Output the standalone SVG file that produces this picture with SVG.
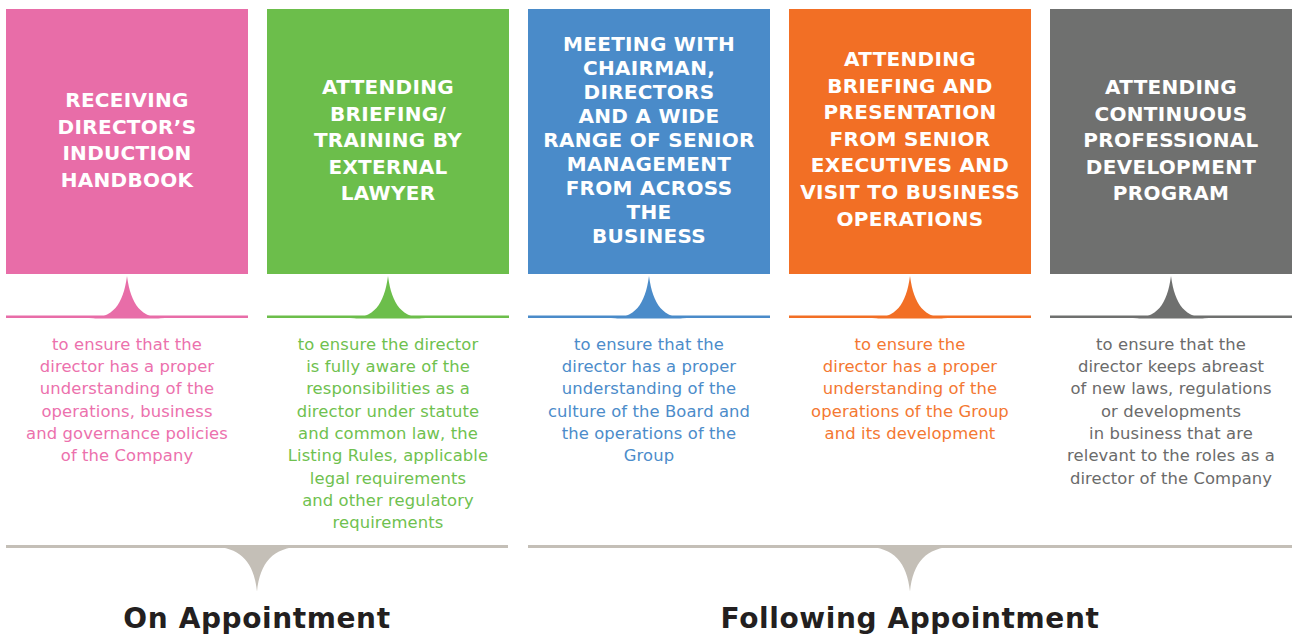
<svg xmlns="http://www.w3.org/2000/svg" xmlns:xlink="http://www.w3.org/1999/xlink" width="1292" height="634" viewBox="0 0 1292 634">
<style>
.title{font-family:"DejaVu Sans","Liberation Sans",sans-serif;font-weight:bold;font-size:20px;fill:#ffffff;text-anchor:middle;letter-spacing:0.3px}
.desc{font-family:"DejaVu Sans","Liberation Sans",sans-serif;font-weight:normal;font-size:16.4px;text-anchor:middle;letter-spacing:0.1px}
.phase{font-family:"DejaVu Sans","Liberation Sans",sans-serif;font-weight:bold;font-size:28px;fill:#231f20;text-anchor:middle;letter-spacing:0.6px}
.pink{fill:#e86da8}.green{fill:#6cbe4b}.blue{fill:#4a8bc9}.orange{fill:#f26f25}.gray{fill:#6f706f}
.tpink{fill:#ec71ad}.tgreen{fill:#6fc14f}.tblue{fill:#4c8cca}.torange{fill:#f47832}.tgray{fill:#6b6b6b}
.bar{fill:#c4bfb7}
</style>
<defs>
<path id="ptr" d="M-38,1.5 C-14,1 -4,-12 0,-41 C4,-12 14,1 38,1.5 Z"/>
<path id="ptrDown" d="M-44,0 C-16,1 -3,16 0,45 C3,16 16,1 44,0 Z"/>
</defs>

<g id="node-handbook">
<rect class="pink" x="6" y="9" width="242" height="265"/>
<text class="title"><tspan x="127" y="107">RECEIVING</tspan><tspan x="127" y="133.6">DIRECTOR’S</tspan><tspan x="127" y="160.2">INDUCTION</tspan><tspan x="127" y="186.8">HANDBOOK</tspan></text>
<rect class="pink" x="6" y="315.5" width="242" height="2.5"/>
<use xlink:href="#ptr" class="pink" x="127" y="317"/>
<text class="desc tpink"><tspan x="127" y="349.5">to ensure that the</tspan><tspan x="127" y="371.85">director has a proper</tspan><tspan x="127" y="394.2">understanding of the</tspan><tspan x="127" y="416.55">operations, business</tspan><tspan x="127" y="438.9">and governance policies</tspan><tspan x="127" y="461.25">of the Company</tspan></text>
</g>

<g id="node-external-lawyer">
<rect class="green" x="267" y="9" width="242" height="265"/>
<text class="title"><tspan x="388" y="94">ATTENDING</tspan><tspan x="388" y="120.6">BRIEFING/</tspan><tspan x="388" y="147.2">TRAINING BY</tspan><tspan x="388" y="173.8">EXTERNAL</tspan><tspan x="388" y="200.4">LAWYER</tspan></text>
<rect class="green" x="267" y="315.5" width="242" height="2.5"/>
<use xlink:href="#ptr" class="green" x="388" y="317"/>
<text class="desc tgreen"><tspan x="388" y="349.5">to ensure the director</tspan><tspan x="388" y="371.85">is fully aware of the</tspan><tspan x="388" y="394.2">responsibilities as a</tspan><tspan x="388" y="416.55">director under statute</tspan><tspan x="388" y="438.9">and common law, the</tspan><tspan x="388" y="461.25">Listing Rules, applicable</tspan><tspan x="388" y="483.6">legal requirements</tspan><tspan x="388" y="505.95">and other regulatory</tspan><tspan x="388" y="528.3">requirements</tspan></text>
</g>

<g id="node-meeting">
<rect class="blue" x="528" y="9" width="242" height="265"/>
<text class="title"><tspan x="649" y="51">MEETING WITH</tspan><tspan x="649" y="75">CHAIRMAN,</tspan><tspan x="649" y="99">DIRECTORS</tspan><tspan x="649" y="123">AND A WIDE</tspan><tspan x="649" y="147">RANGE OF SENIOR</tspan><tspan x="649" y="171">MANAGEMENT</tspan><tspan x="649" y="195">FROM ACROSS</tspan><tspan x="649" y="219">THE</tspan><tspan x="649" y="243">BUSINESS</tspan></text>
<rect class="blue" x="528" y="315.5" width="242" height="2.5"/>
<use xlink:href="#ptr" class="blue" x="649" y="317"/>
<text class="desc tblue"><tspan x="649" y="349.5">to ensure that the</tspan><tspan x="649" y="371.85">director has a proper</tspan><tspan x="649" y="394.2">understanding of the</tspan><tspan x="649" y="416.55">culture of the Board and</tspan><tspan x="649" y="438.9">the operations of the</tspan><tspan x="649" y="461.25">Group</tspan></text>
</g>

<g id="node-presentation">
<rect class="orange" x="789" y="9" width="242" height="265"/>
<text class="title"><tspan x="910" y="66">ATTENDING</tspan><tspan x="910" y="92.6">BRIEFING AND</tspan><tspan x="910" y="119.2">PRESENTATION</tspan><tspan x="910" y="145.8">FROM SENIOR</tspan><tspan x="910" y="172.4">EXECUTIVES AND</tspan><tspan x="910" y="199">VISIT TO BUSINESS</tspan><tspan x="910" y="225.6">OPERATIONS</tspan></text>
<rect class="orange" x="789" y="315.5" width="242" height="2.5"/>
<use xlink:href="#ptr" class="orange" x="910" y="317"/>
<text class="desc torange"><tspan x="910" y="349.5">to ensure the</tspan><tspan x="910" y="371.85">director has a proper</tspan><tspan x="910" y="394.2">understanding of the</tspan><tspan x="910" y="416.55">operations of the Group</tspan><tspan x="910" y="438.9">and its development</tspan></text>
</g>

<g id="node-cpd">
<rect class="gray" x="1050" y="9" width="242" height="265"/>
<text class="title"><tspan x="1171" y="94">ATTENDING</tspan><tspan x="1171" y="120.6">CONTINUOUS</tspan><tspan x="1171" y="147.2">PROFESSIONAL</tspan><tspan x="1171" y="173.8">DEVELOPMENT</tspan><tspan x="1171" y="200.4">PROGRAM</tspan></text>
<rect class="gray" x="1050" y="315.5" width="242" height="2.5"/>
<use xlink:href="#ptr" class="gray" x="1171" y="317"/>
<text class="desc tgray"><tspan x="1171" y="349.5">to ensure that the</tspan><tspan x="1171" y="371.85">director keeps abreast</tspan><tspan x="1171" y="394.2">of new laws, regulations</tspan><tspan x="1171" y="416.55">or developments</tspan><tspan x="1171" y="438.9">in business that are</tspan><tspan x="1171" y="461.25">relevant to the roles as a</tspan><tspan x="1171" y="483.6">director of the Company</tspan></text>
</g>

<g id="connectors">
<rect class="bar" x="6" y="545" width="502" height="3"/>
<use xlink:href="#ptrDown" class="bar" x="257" y="546.5"/>
<rect class="bar" x="528" y="545" width="764" height="3"/>
<use xlink:href="#ptrDown" class="bar" x="910" y="546.5"/>
</g>

<g id="node-on-appointment">
<text class="phase" x="257" y="628">On Appointment</text>
</g>
<g id="node-following-appointment">
<text class="phase" x="910" y="628">Following Appointment</text>
</g>
</svg>
